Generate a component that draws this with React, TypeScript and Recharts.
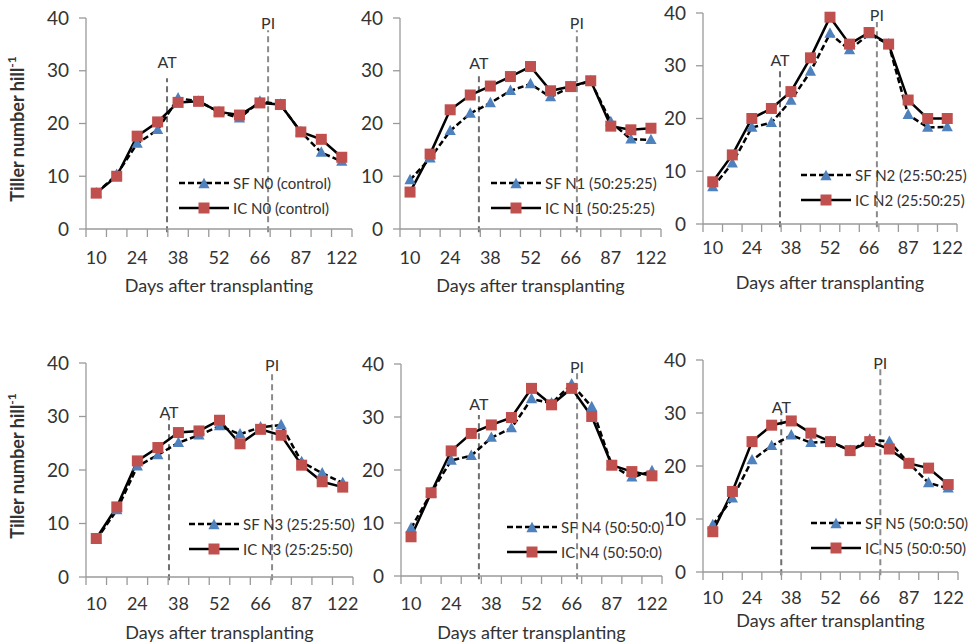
import React from 'react';
import { LineChart, Line, XAxis, YAxis, ReferenceLine, ReferenceDot, Legend } from 'recharts';

const DAYS = ['10', '17', '24', '31', '38', '45', '52', '59', '66', '73', '87', '101', '122'];

const SF_N0 = [6.8, 10.3, 16.2, 18.8, 24.8, 24.2, 22.2, 21.0, 24.2, 23.6, 18.4, 14.5, 12.8];
const IC_N0 = [6.8, 10.0, 17.6, 20.3, 24.0, 24.2, 22.2, 21.6, 23.9, 23.6, 18.4, 17.0, 13.6];
const SF_N1 = [9.3, 13.4, 18.6, 21.9, 23.9, 26.2, 27.5, 25.0, 27.0, 28.0, 20.3, 17.0, 16.9];
const IC_N1 = [7.0, 14.2, 22.6, 25.4, 27.1, 28.9, 30.8, 26.2, 27.0, 28.1, 19.5, 18.8, 19.1];
const SF_N2 = [7.0, 11.5, 18.3, 19.2, 23.4, 28.9, 36.1, 33.0, 36.0, 34.1, 20.7, 18.3, 18.4];
const IC_N2 = [8.0, 13.1, 20.0, 21.9, 25.1, 31.5, 39.2, 34.1, 36.3, 34.1, 23.5, 20.0, 20.0];
const SF_N3 = [7.0, 12.5, 20.7, 22.8, 25.1, 26.5, 28.2, 26.7, 28.0, 28.4, 21.5, 19.4, 17.6];
const IC_N3 = [7.2, 13.1, 21.7, 24.2, 27.0, 27.3, 29.3, 24.9, 27.6, 26.5, 20.9, 17.8, 16.8];
const SF_N4 = [9.0, 15.7, 21.8, 22.7, 26.1, 27.9, 33.4, 32.6, 36.2, 31.9, 20.9, 18.6, 19.8];
const IC_N4 = [7.4, 15.7, 23.6, 26.9, 28.5, 29.9, 35.4, 32.3, 35.4, 30.1, 20.9, 19.7, 18.9];
const SF_N5 = [8.9, 13.9, 21.1, 23.8, 25.8, 24.4, 24.6, 22.9, 25.0, 24.6, 20.5, 16.8, 15.8];
const IC_N5 = [7.6, 15.2, 24.6, 27.7, 28.5, 26.2, 24.6, 22.9, 24.6, 23.2, 20.5, 19.6, 16.5];

const TREATMENTS = ['N0 (control)', 'N1 (50:25:25)', 'N2 (25:50:25)', 'N3 (25:25:50)', 'N4 (50:50:0)', 'N5 (50:0:50)'];
const SF_SERIES = [SF_N0, SF_N1, SF_N2, SF_N3, SF_N4, SF_N5];
const IC_SERIES = [IC_N0, IC_N1, IC_N2, IC_N3, IC_N4, IC_N5];

// growth stage markers (position on the day index axis)
const AT_POS = [3.46, 3.43, 3.44, 3.54, 3.38, 3.49];
const PI_POS = [8.4, 8.31, 8.4, 8.56, 8.27, 8.54];
const AT_TOP = [28.6, 29.6, 29.2, 29.7, 30.4, 30.0];
const PI_TOP = [37.7, 37.7, 38.3, 38.1, 38.3, 38.5];
const AT_LABEL_Y = [31.6, 31.5, 31.0, 30.8, 32.3, 31.1];
const PI_LABEL_Y = [38.9, 39.0, 39.6, 39.5, 39.4, 39.4];

const Y_TICKS = [0, 10, 20, 30, 40];

// layout (page pixel coordinates)
const LAYOUT = [
  { pl: 86, pr: 352, pt: 18, pb: 229, labDy: 28, titDy: 56, legX: 233, legY: 183, yTitle: 129 },
  { pl: 400, pr: 661, pt: 18, pb: 229, labDy: 28, titDy: 56, legX: 545, legY: 183 },
  { pl: 703, pr: 957, pt: 13, pb: 224, labDy: 23, titDy: 58, legX: 855, legY: 175 },
  { pl: 86, pr: 353, pt: 363, pb: 577, labDy: 26, titDy: 55, legX: 243, legY: 524, yTitle: 466 },
  { pl: 401, pr: 662, pt: 364, pb: 576, labDy: 27, titDy: 56, legX: 561, legY: 527 },
  { pl: 703, pr: 958, pt: 360, pb: 572, labDy: 25, titDy: 48, legX: 865, legY: 523 },
];

const FONT = 'Lato, "Open Sans", sans-serif';
const AXIS = '#9a9a9a';
const TEXT = '#333333';
const BLUE = '#4F81BD';
const RED = '#C0504D';

const X_TICKS: number[] = [];
for (let i = -1; i <= 25; i++) X_TICKS.push(i / 2);

const triPath = (cx: number, cy: number, s: number) =>
  `M${cx},${cy - s * 0.62} L${cx + s * 0.56},${cy + s * 0.42} L${cx - s * 0.56},${cy + s * 0.42} Z`;

const TriDot = (props: any) => {
  const { cx, cy } = props;
  if (cx == null || cy == null) return null;
  return <path d={triPath(cx, cy, 10)} fill={BLUE} />;
};

const SqDot = (props: any) => {
  const { cx, cy } = props;
  if (cx == null || cy == null) return null;
  return <rect x={cx - 5.5} y={cy - 5.5} width={11} height={11} fill={RED} />;
};

const XTick = (props: any) => {
  const { x, y, payload, labDy } = props;
  const v = payload.value as number;
  if (Math.abs(v - Math.round(v)) > 0.1) {
    return <line x1={x} x2={x} y1={y} y2={y + 8} stroke={AXIS} strokeWidth={1.3} />;
  }
  if (Math.round(v) % 2 === 0) {
    return (
      <text x={x} y={y + labDy} textAnchor="middle" dominantBaseline="central" fontFamily={FONT} fontSize={18} fill={TEXT}>
        {DAYS[Math.round(v)]}
      </text>
    );
  }
  return <g />;
};

const LegendBox = ({ name }: { name: string }) => (
  <div style={{ fontFamily: FONT, fontSize: 15, color: TEXT, whiteSpace: 'nowrap' }}>
    <div style={{ display: 'flex', alignItems: 'center', height: 25 }}>
      <svg width={52} height={14} style={{ display: 'block' }}>
        <line x1={1} x2={51} y1={7} y2={7} stroke="#000" strokeWidth={2.5} strokeDasharray="6 3" />
        <path d={triPath(26, 8, 10)} fill={BLUE} />
      </svg>
      <span style={{ marginLeft: 3 }}>SF {name}</span>
    </div>
    <div style={{ display: 'flex', alignItems: 'center', height: 25 }}>
      <svg width={52} height={14} style={{ display: 'block' }}>
        <line x1={1} x2={51} y1={7} y2={7} stroke="#000" strokeWidth={2.5} />
        <rect x={20.5} y={1.5} width={11} height={11} fill={RED} />
      </svg>
      <span style={{ marginLeft: 3 }}>IC {name}</span>
    </div>
  </div>
);

const Panel = ({ idx }: { idx: number }) => {
  const L = LAYOUT[idx];
  const left = L.pl - 86;
  const top = L.pt - 20;
  const width = L.pr - left + 14;
  const height = L.pb - top + 72;
  const data = DAYS.map((d, i) => ({ x: i, day: d, sf: SF_SERIES[idx][i], ic: IC_SERIES[idx][i] }));
  const name = TREATMENTS[idx];
  return (
    <div style={{ position: 'absolute', left, top, width, height }}>
      <LineChart width={width} height={height} data={data} margin={{ top: 20, right: 14, left: 0, bottom: 32 }}>
        <XAxis
          dataKey="x"
          type="number"
          domain={[-0.5, 12.5]}
          ticks={X_TICKS}
          interval={0}
          height={40}
          tickLine={false}
          tickSize={0}
          tickMargin={0}
          stroke={AXIS}
          strokeWidth={1.3}
          tick={<XTick labDy={L.labDy} />}
          label={{
            content: (p: any) => {
              const vb = p.viewBox || {};
              return (
                <text
                  x={vb.x + vb.width / 2}
                  y={vb.y + L.titDy}
                  textAnchor="middle"
                  dominantBaseline="central"
                  fontFamily={FONT}
                  fontSize={18}
                  fill={TEXT}
                >
                  Days after transplanting
                </text>
              );
            },
          }}
        />
        <YAxis
          type="number"
          domain={[0, 40]}
          ticks={Y_TICKS}
          width={86}
          stroke={AXIS}
          strokeWidth={1.3}
          tickSize={7}
          tickMargin={10}
          tick={{ fontFamily: FONT, fontSize: 19, fill: TEXT }}
          label={
            L.yTitle
              ? {
                  content: () => {
                    const cy = (L.yTitle as number) - top;
                    return (
                      <text
                        x={17}
                        y={cy}
                        transform={`rotate(-90, 17, ${cy})`}
                        textAnchor="middle"
                        dominantBaseline="central"
                        fontFamily={FONT}
                        fontSize={18}
                        fontWeight="bold"
                        fill={TEXT}
                      >
                        Tiller number hill
                        <tspan dy={-6} fontSize={12}>-1</tspan>
                      </text>
                    );
                  },
                }
              : undefined
          }
        />
        <ReferenceLine
          segment={[{ x: AT_POS[idx], y: -0.6 }, { x: AT_POS[idx], y: AT_TOP[idx] }]}
          stroke="#6e6e6e"
          strokeWidth={2}
          strokeDasharray="6 4"
          ifOverflow="visible"
        />
        <ReferenceLine
          segment={[{ x: PI_POS[idx], y: -0.6 }, { x: PI_POS[idx], y: PI_TOP[idx] }]}
          stroke="#8a8a8a"
          strokeWidth={2}
          strokeDasharray="6 4"
          ifOverflow="visible"
        />
        <ReferenceDot
          x={AT_POS[idx]}
          y={AT_LABEL_Y[idx]}
          r={0}
          stroke="none"
          fill="none"
          ifOverflow="visible"
          label={{ value: 'AT', position: 'center', fontFamily: FONT, fontSize: 16, fill: TEXT }}
        />
        <ReferenceDot
          x={PI_POS[idx]}
          y={PI_LABEL_Y[idx]}
          r={0}
          stroke="none"
          fill="none"
          ifOverflow="visible"
          label={{ value: 'PI', position: 'center', fontFamily: FONT, fontSize: 16, fill: TEXT }}
        />
        <Line
          type="linear"
          dataKey="sf"
          name={`SF ${name}`}
          stroke="#000"
          strokeWidth={2.5}
          strokeDasharray="6 3"
          dot={<TriDot />}
          activeDot={false}
          isAnimationActive={false}
        />
        <Line
          type="linear"
          dataKey="ic"
          name={`IC ${name}`}
          stroke="#000"
          strokeWidth={2.5}
          dot={<SqDot />}
          activeDot={false}
          isAnimationActive={false}
        />
        <Legend
          layout="vertical"
          align="center"
          verticalAlign="middle"
          wrapperStyle={{ left: L.legX - 55 - left, top: L.legY - 12.5 - top, width: 'auto' }}
          content={() => <LegendBox name={name} />}
        />
      </LineChart>
    </div>
  );
};

export default function App() {
  return (
    <div style={{ position: 'absolute', left: 0, top: 0, width: 969, height: 643, background: '#fff', overflow: 'hidden' }}>
      {LAYOUT.map((_, i) => (
        <Panel key={i} idx={i} />
      ))}
    </div>
  );
}
